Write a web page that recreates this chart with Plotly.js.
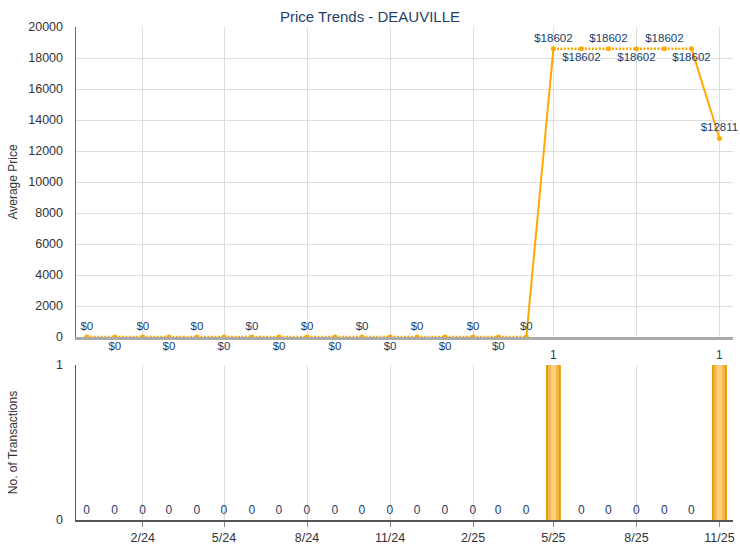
<!DOCTYPE html>
<html>
<head>
<meta charset="utf-8">
<script src="https://cdn.plot.ly/plotly-3.0.1.min.js"></script>
<style>html,body{margin:0;padding:0;background:#fff;}#chart{width:740px;height:550px;}</style>
</head>
<body>
<div id="chart"></div>
<script>
// ---- data ----
const months = ['2023-12-01','2024-01-01','2024-02-01','2024-03-01','2024-04-01','2024-05-01',
  '2024-06-01','2024-07-01','2024-08-01','2024-09-01','2024-10-01','2024-11-01',
  '2024-12-01','2025-01-01','2025-02-01','2025-03-01','2025-04-01','2025-05-01',
  '2025-06-01','2025-07-01','2025-08-01','2025-09-01','2025-10-01','2025-11-01'];
const avgPrice = [0,0,0,0,0,0,0,0,0,0,0,0,0,0,0,0,0,18602,18602,18602,18602,18602,18602,12811];
const txCount  = [0,0,0,0,0,0,0,0,0,0,0,0,0,0,0,0,0,1,0,0,0,0,0,1];
const chartTitle = 'Price Trends - DEAUVILLE';

// ---- styles ----
const ORANGE = '#FFA800';
const LABEL = '#1B3C68';
const FONT = '"Liberation Sans", Arial, sans-serif';

// label alternation inside runs of equal values
const pricePos = [];
let runIdx = 0;
for (let i = 0; i < avgPrice.length; i++) {
  if (i > 0 && avgPrice[i] !== avgPrice[i-1]) runIdx = 0;
  pricePos.push(runIdx % 2 === 0 ? 'top center' : 'bottom center');
  runIdx++;
}
// split segments: dotted for flat, solid for changes
const dx = [], dy = [], sx = [], sy = [];
for (let i = 0; i < avgPrice.length - 1; i++) {
  const flat = avgPrice[i] === avgPrice[i+1];
  (flat ? dx : sx).push(months[i], months[i+1], null);
  (flat ? dy : sy).push(avgPrice[i], avgPrice[i+1], null);
}
const DAY = 86400000;

const traces = [
  {x: dx, y: dy, xaxis: 'x2', yaxis: 'y', mode: 'lines', line: {color: ORANGE, width: 2.5, dash: '2px,1.5px'}, hoverinfo: 'skip', connectgaps: false},
  {x: sx, y: sy, xaxis: 'x2', yaxis: 'y', mode: 'lines', line: {color: ORANGE, width: 2}, hoverinfo: 'skip', connectgaps: false},
  {x: months, y: avgPrice, xaxis: 'x2', yaxis: 'y', mode: 'markers+text',
   marker: {color: ORANGE, size: 5},
   text: avgPrice.map(v => '$' + v), textposition: pricePos,
   textfont: {family: FONT, size: 11.5, color: LABEL}, cliponaxis: false},
  {type: 'bar', x: months, y: txCount, xaxis: 'x', yaxis: 'y2', width: 16.5*DAY,
   marker: {color: '#EC9A0E', line: {width: 0}},
   text: txCount.map(String), textposition: 'outside', cliponaxis: false,
   textfont: {family: FONT, size: 12, color: LABEL}},
  {type: 'bar', x: months, y: txCount, xaxis: 'x', yaxis: 'y2', width: 12*DAY,
   marker: {color: '#F5B743', line: {width: 0}}, hoverinfo: 'skip'},
  {type: 'bar', x: months, y: txCount, xaxis: 'x', yaxis: 'y2', width: 6*DAY,
   marker: {color: '#FAD17E', line: {width: 0}}, hoverinfo: 'skip'}
];

const xr = ['2023-11-19', '2025-11-16'];
const layout = {
  width: 740, height: 550,
  margin: {l: 76, r: 7, t: 27, b: 30},
  paper_bgcolor: '#fff', plot_bgcolor: '#fff',
  showlegend: false,
  barmode: 'overlay',
  font: {family: FONT, size: 12, color: '#333'},
  title: {text: chartTitle, x: 0.5, xanchor: 'center', y: 0.979, yanchor: 'top',
          font: {family: FONT, size: 15, color: '#1F3F6A'}},
  xaxis: {type: 'date', range: xr, anchor: 'y2', domain: [0, 1],
          tickformat: '%-m/%y', dtick: 'M3', tick0: '2024-02-01',
          showgrid: true, gridcolor: '#DDDDDD', gridwidth: 1,
          showline: true, linecolor: '#555', linewidth: 1.5,
          ticks: 'outside', ticklen: 5, tickcolor: '#888',
          tickfont: {family: FONT, size: 12.5, color: '#333'}, zeroline: false},
  xaxis2: {type: 'date', range: xr, anchor: 'y', matches: 'x', domain: [0, 1],
           dtick: 'M3', tick0: '2024-02-01', showticklabels: false,
           showgrid: true, gridcolor: '#DDDDDD', gridwidth: 1,
           showline: true, linecolor: '#AAAAAA', linewidth: 3, ticks: '', zeroline: false},
  yaxis: {domain: [0.3712, 1], range: [0, 20000], dtick: 2000, tickformat: 'd',
          showgrid: true, gridcolor: '#DDDDDD', showline: true, linecolor: '#666', linewidth: 1.5,
          zeroline: false, ticks: '', ticklabelstandoff: 9, tickfont: {family: FONT, size: 12.5, color: '#333'},
          title: {text: 'Average Price', standoff: 8, font: {family: FONT, size: 12, color: '#333'}}},
  yaxis2: {domain: [0, 0.3144], range: [0, 1], dtick: 1,
           showgrid: true, gridcolor: '#DDDDDD', showline: true, linecolor: '#555', linewidth: 1.5,
           zeroline: false, ticks: '', ticklabelstandoff: 9, tickfont: {family: FONT, size: 12.5, color: '#333'},
           title: {text: 'No. of Transactions', standoff: 36, font: {family: FONT, size: 12, color: '#333'}}}
};

Plotly.newPlot('chart', traces, layout, {displayModeBar: false, staticPlot: true});
</script>
</body>
</html>
